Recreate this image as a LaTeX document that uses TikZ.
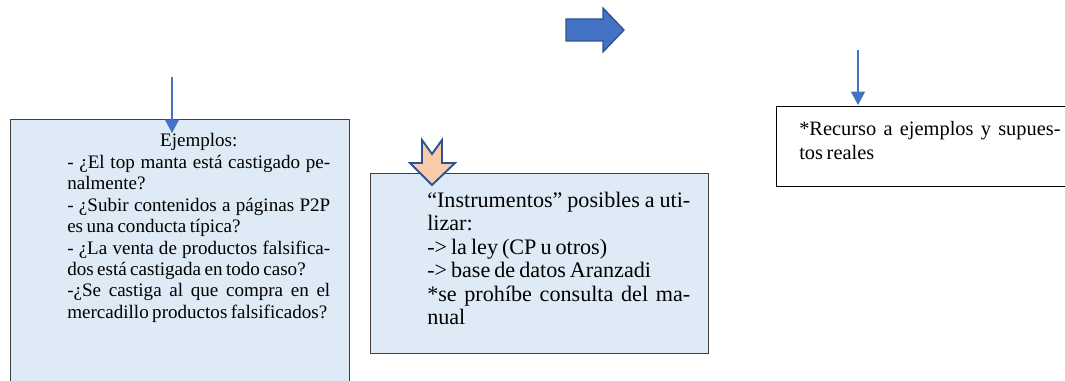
\documentclass[tikz,border=0pt]{standalone}
\usepackage{fontspec}
\setmainfont{Liberation Serif}
\usetikzlibrary{arrows.meta,positioning}
\definecolor{accblue}{HTML}{4472C4}
\definecolor{darkblue}{HTML}{2F528F}
\definecolor{boxfill}{HTML}{DEEBF7}
\definecolor{peach}{HTML}{F8CBAD}
\definecolor{boxline}{HTML}{404040}
\newcommand{\tightwords}{\spaceskip=0.18em plus 0.8em minus 0.04em\relax}

\begin{document}
\begin{tikzpicture}[x=0.75pt,y=-0.75pt,
    panel/.style={draw=boxline, line width=1.1pt, fill=boxfill, inner sep=0pt, anchor=north west},
    plainbox/.style={draw=black, line width=0.9pt, fill=white, inner sep=0pt, anchor=north west},
    txt/.style={anchor=base west, inner sep=0pt, align=justify},
    pointer/.style={draw=accblue, line width=0.9pt, -{Triangle[length=10pt,width=10.5pt]}}]
    \useasboundingbox (0,0) rectangle (1065,381);

    % Boxes
    \node[panel, minimum width=254.25pt, minimum height=207pt] (ejbox) at (10,119) {};
    \node[panel, minimum width=253.5pt, minimum height=135pt] (instbox) at (370,173) {};
    \node[plainbox, minimum width=224.25pt, minimum height=60pt] (recbox) at (776,106) {};

    % Texts
    \node[txt, text width=197.25pt, font=\fontsize{14.3}{16.1}\selectfont\tightwords] (ejtext) at (67,146.7)
        {{\centering Ejemplos:\par}
         - ¿El top manta está castigado pe-\linebreak nalmente?\par
         - ¿Subir contenidos a páginas P2P\linebreak es una conducta típica?\par
         - ¿La venta de productos falsifica-\linebreak dos está castigada en todo caso?\par
         -¿Se castiga al que compra en el\linebreak mercadillo productos falsificados?};
    \node[txt, text width=197.25pt, font=\fontsize{16.6}{17.6}\selectfont\tightwords] (insttext) at (427,207.3)
        {“Instrumentos” posibles a uti-\linebreak lizar:\par
         -> la ley (CP u otros)\par
         -> base de datos Aranzadi\par
         *se prohíbe consulta del ma-\linebreak nual};
    \node[txt, text width=196pt, font=\fontsize{15.3}{18}\selectfont\tightwords] (rectext) at (799,136)
        {*Recurso a ejemplos y supues-\linebreak tos reales};

    % Connectors
    \coordinate (ejtop) at (172,77);
    \coordinate (ejtip) at (172,133);
    \coordinate (rectop) at (858,50);
    \coordinate (rectip) at (858,105);
    \draw[pointer] (ejtop) -- (ejtip);
    \draw[pointer] (rectop) -- (rectip);

    % Block arrows
    \draw[fill=accblue, draw=darkblue, line width=1pt, line join=miter]
        (566,19) -- (603,19) -- (603,8) -- (624,30) -- (603,52) -- (603,41) -- (566,41) -- cycle;
    \draw[fill=peach, draw=darkblue, line width=1.4pt, line join=miter]
        (422,140) -- (432,154) -- (442,140) -- (442,163) -- (455,163) -- (432,185)
        -- (410,163) -- (422,163) -- cycle;
\end{tikzpicture}
\end{document}
